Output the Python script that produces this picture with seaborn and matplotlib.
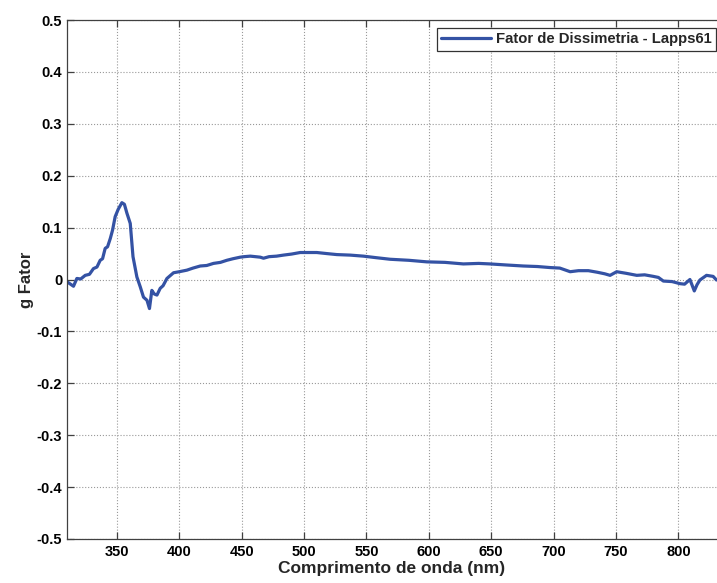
import matplotlib
matplotlib.use("Agg")
import matplotlib.pyplot as plt
import seaborn as sns
import pandas as pd

# Dissymmetry factor spectrum (g factor vs wavelength)
wavelength_nm = [
    310.4, 315.2, 317.9, 321, 324.6, 328, 331.2, 334, 336.6, 338.5, 340.6,
    342.5, 344.7, 346.5, 348.6, 351, 354, 356, 358, 360.7, 362.9, 366, 368.7,
    371.3, 374.1, 376.1, 378, 380, 382.1, 384.7, 387, 390.1, 395.4, 400,
    406.1, 411, 416.8, 422, 427.4, 433, 438.1, 443, 448.8, 452, 456.9, 461,
    464.9, 467.5, 472, 478, 483.5, 490, 496.9, 503, 510.2, 518, 526.3, 537,
    547.6, 558, 569, 584, 598.4, 613, 627.7, 640, 649.1, 662, 675.8, 687,
    697.2, 705, 713.3, 720, 727.9, 735, 741, 745.3, 750.6, 758, 766.7, 773,
    780, 784, 788, 795, 801.3, 805, 809.3, 812.8, 815, 817.3, 822.6, 827.9,
    830.6,
]
g_factor = [
    -0.005, -0.013, 0.002, 0.001, 0.008, 0.010, 0.021, 0.024, 0.037, 0.040,
    0.060, 0.063, 0.079, 0.095, 0.121, 0.135, 0.148, 0.145, 0.128, 0.108,
    0.044, 0.005, -0.014, -0.034, -0.040, -0.056, -0.021, -0.028, -0.030,
    -0.017, -0.012, 0.002, 0.013, 0.015, 0.018, 0.022, 0.026, 0.027, 0.031,
    0.033, 0.037, 0.040, 0.043, 0.044, 0.045, 0.044, 0.043, 0.041, 0.044,
    0.045, 0.047, 0.049, 0.052, 0.052, 0.052, 0.050, 0.048, 0.047, 0.045,
    0.042, 0.039, 0.037, 0.034, 0.033, 0.030, 0.031, 0.030, 0.028, 0.026,
    0.025, 0.023, 0.022, 0.015, 0.017, 0.017, 0.014, 0.011, 0.008, 0.015,
    0.012, 0.008, 0.009, 0.006, 0.004, -0.003, -0.004, -0.008, -0.009, 0.000,
    -0.022, -0.010, -0.001, 0.008, 0.006, -0.001,
]
series_label = "Fator de Dissimetria - Lapps61"

x_ticks = [350, 400, 450, 500, 550, 600, 650, 700, 750, 800]
y_ticks = [-0.5, -0.4, -0.3, -0.2, -0.1, 0, 0.1, 0.2, 0.3, 0.4, 0.5]
y_tick_labels = ["-0.5", "-0.4", "-0.3", "-0.2", "-0.1", "0",
                 "0.1", "0.2", "0.3", "0.4", "0.5"]

sns.set_style("white")
plt.rcParams["font.family"] = ["Liberation Sans", "DejaVu Sans"]

df = pd.DataFrame({"wavelength": wavelength_nm, "g": g_factor})

W, H = 717, 583
fig = plt.figure(figsize=(W / 100, H / 100), dpi=100)
ax = fig.add_axes([67 / W, 44 / H, 650 / W, 519 / H])

line_color = "#3452A4"
sns.lineplot(data=df, x="wavelength", y="g", ax=ax, color=line_color,
             linewidth=2.3, label=series_label, sort=False)

ax.set_xlim(310, 831)
ax.set_ylim(-0.5, 0.5)
ax.set_xticks(x_ticks)
ax.set_xticklabels([str(t) for t in x_ticks])
ax.set_yticks(y_ticks)
ax.set_yticklabels(y_tick_labels)

spine_color = "#404040"
for side in ("left", "bottom", "top"):
    ax.spines[side].set_color(spine_color)
    ax.spines[side].set_linewidth(0.9)
ax.spines["right"].set_visible(False)

ax.tick_params(axis="both", direction="in", length=5, width=0.9,
               color=spine_color, labelcolor="black", labelsize=10.5,
               top=True, right=False, bottom=True, left=True)
ax.tick_params(axis="x", pad=4)
ax.tick_params(axis="y", pad=3.5)
for lab in ax.get_xticklabels() + ax.get_yticklabels():
    lab.set_fontweight("bold")

ax.grid(True, linestyle=":", color="#999999", linewidth=0.8)

ax.set_xlabel("Comprimento de onda (nm)", fontsize=12.5, fontweight="bold",
              labelpad=2)
ax.set_ylabel("g Fator", fontsize=12, fontweight="bold", labelpad=2)

leg = ax.legend(loc="upper left", bbox_to_anchor=(437 / W, 1 - 28 / H),
                bbox_transform=fig.transFigure, borderaxespad=0,
                fancybox=False, framealpha=1, edgecolor="#333333",
                borderpad=0.3, handlelength=3.3, handletextpad=0.37,
                prop={"weight": "bold", "size": 10.7})
leg.get_frame().set_linewidth(0.9)

fig.savefig("out.png", dpi=100)
